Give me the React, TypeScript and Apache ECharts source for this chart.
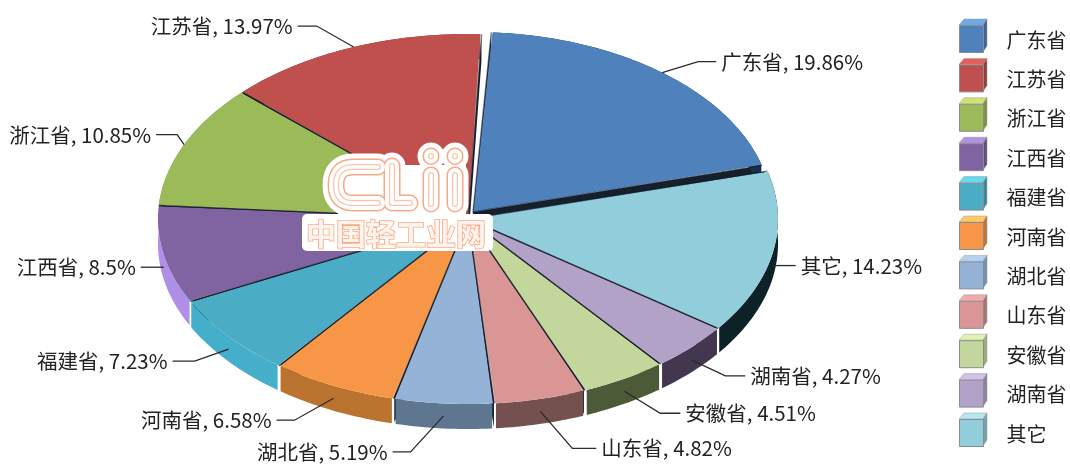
import React, { useEffect, useRef } from "react";
import * as echarts from "echarts";

const provinces = ["广东省", "江苏省", "浙江省", "江西省", "福建省", "河南省", "湖北省", "山东省", "安徽省", "湖南省", "其它"];
const shares = [19.86, 13.97, 10.85, 8.5, 7.23, 6.58, 5.19, 4.82, 4.51, 4.27, 14.23];

const topColors = ["#4f81bd", "#c0504d", "#9bbb59", "#8064a2", "#4bacc6", "#f79646", "#95b3d7", "#d99694", "#c3d69b", "#b3a2c7", "#92cddc"];
const wallColors = ["#16304f", "#7a3230", "#6b8a3a", "#b08fe8", "#45aecb", "#bb7330", "#5e7690", "#74504f", "#4d5a38", "#43374f", "#0c2228"];
const cubeTopColors = ["#6ea9ea", "#e2605c", "#d2e46e", "#b48fe2", "#62dcf0", "#ffc966", "#b6d2f2", "#f0aaa8", "#e2f0b0", "#d2c0ea", "#b4e8f4"];
const cubeSideColors = ["#3b659a", "#983c3a", "#7a9444", "#624c80", "#38889e", "#c47434", "#7490b0", "#b07270", "#9cad78", "#8e80a0", "#72a4b0"];

// layout of leader lines: [elbow dx, elbow dy, tail dx] from the slice's rim anchor
const leaders = [
  [36, -11, 18], [-37, -21, -19], [-7, -10, -21], [0, 0, -23], [-34, 12, -22], [-39, 22, -18],
  [-33, 36, -18], [32, 37, 24], [36, 22, 20], [34, 16, 20], [0, 0, 23],
];

const CX = 468, CY = 219, RX = 310, RY = 185, DEPTH = 25, START = 75;
const FONT = '"Noto Sans CJK SC", "Liberation Sans", sans-serif';

const total = shares.reduce((a, b) => a + b, 0);
const rad = (d: number) => (d * Math.PI) / 180;

function sliceRange(i: number) {
  // the first slice ends at START and the others continue counter-clockwise
  const before = shares.slice(0, i).reduce((a, b) => a + b, 0);
  const hi = START - (before / total) * 360;
  const lo = hi - (shares[i] / total) * 360;
  return [lo, hi];
}

function renderSlice(i: number, params: any, api: any) {
  const value = api.value(0);
  const [lo, hiRaw] = sliceRange(i);
  // the slice next to the pulled-out one leaves a wider white gap
  const hi = i === 1 ? hiRaw - 1 : hiRaw;
  const mid = (lo + hiRaw) / 2;
  const exploded = i === 0;
  const cx = exploded ? CX + 5 : CX;
  const cy = exploded ? CY - 7 : CY;
  const rx = exploded ? RX - 11 : RX;
  const ry = exploded ? RY - 5 : RY;
  const pt = (deg: number, f = 1, dy = 0) => [cx + rx * f * Math.sin(rad(deg)), cy - ry * f * Math.cos(rad(deg)) + dy];
  const arc = (a: number, b: number, dy = 0) => {
    const n = Math.max(2, Math.ceil(Math.abs(b - a)));
    const out: number[][] = [];
    for (let k = 0; k <= n; k++) out.push(pt(a + ((b - a) * k) / n, 1, dy));
    return out;
  };
  const z = Math.round(-Math.cos(rad(mid)) * 100) + 200;
  const g = 0.35;
  const radialWall = (deg: number) => ({
    type: "polygon",
    z2: z,
    shape: { points: [pt(deg, 0), pt(deg, 0.99), pt(deg, 0.99, DEPTH), pt(deg, 0, DEPTH)] },
    style: { fill: "#14202c" },
    silent: true,
  });
  const rimWall = {
    type: "polygon",
    z2: z,
    shape: { points: [...arc(lo + g, hi - g), ...arc(hi - g, lo + g, DEPTH)] },
    style: { fill: wallColors[i] },
    silent: true,
  };
  const topFace = {
    type: "polygon",
    z2: z + 1,
    shape: { points: [[cx, cy], ...arc(lo + g * 0.6, hi - g * 0.6)] },
    style: { fill: topColors[i] },
    silent: true,
  };
  const seam = {
    type: "polyline",
    z2: 500,
    shape: { points: [pt(lo, 1), pt(lo, 0), pt(hi, 1)] },
    style: { stroke: "rgba(20,28,40,0.55)", lineWidth: 1.4, fill: "none" },
    silent: true,
  };
  const rim = pt(mid);
  const anchor = [rim[0], rim[1] + (rim[1] > cy ? DEPTH / 2 : 0)];
  const [ex, ey, tail] = leaders[i];
  const elbow = [anchor[0] + ex, anchor[1] + ey];
  const end = [elbow[0] + tail, elbow[1]];
  const leader = {
    type: "polyline",
    z2: 600,
    shape: { points: [anchor, elbow, end] },
    style: { stroke: "#2a2a2a", lineWidth: 1.3, fill: "none" },
    silent: true,
  };
  const right = tail > 0;
  const label = {
    type: "text",
    z2: 601,
    style: {
      text: `${provinces[i]}, ${value}%`,
      x: end[0] + (right ? 5 : -5),
      y: end[1] - 1,
      fill: "#222222",
      font: `20.5px ${FONT}`,
      lineHeight: 20,
      align: right ? "left" : "right",
      textAlign: right ? "left" : "right",
      verticalAlign: "middle",
      textVerticalAlign: "middle",
    },
    silent: true,
  };
  return { type: "group", children: [radialWall(lo), radialWall(hi), rimWall, topFace, seam, leader, label] };
}

const logoPath =
  "M378 167 H353 Q336 167 336 185 Q336 203 353 203 H378 " +
  "M392 166 V203 H410 " +
  "M431 175 V204 M455 175 V204 " +
  "M431 156 V156.5 M455 156 V156.5";

export default function App() {
  const ref = useRef<HTMLDivElement>(null);
  useEffect(() => {
    document.body.style.margin = "0";
    echarts.graphic.registerShape("cliiLogo", echarts.graphic.extendPath(logoPath as any, {}) as any);
    const chart = echarts.init(ref.current!, null, { renderer: "svg" });
    const logoLayer = (color: string, width: number, z: number) => ({
      type: "cliiLogo",
      z,
      silent: true,
      style: { fill: "none", stroke: color, lineWidth: width, lineCap: "round", lineJoin: "round" },
    });
    const cubes: any[] = [];
    provinces.forEach((_, i) => {
      const x = 959, y = 25 + 39.4 * i;
      cubes.push({ type: "polygon", silent: true, shape: { points: [[x, y], [x + 5, y - 6], [x + 28, y - 6], [x + 24, y]] }, style: { fill: cubeTopColors[i], stroke: "#9a9a9a", lineWidth: 0.5 } });
      cubes.push({ type: "polygon", silent: true, shape: { points: [[x + 24, y], [x + 28, y - 6], [x + 28, y + 21], [x + 24, y + 27]] }, style: { fill: cubeSideColors[i], stroke: "#9a9a9a", lineWidth: 0.5 } });
    });
    chart.setOption({
      animation: false,
      backgroundColor: "#ffffff",
      legend: {
        show: true,
        orient: "vertical",
        left: 959,
        top: 25,
        padding: 0,
        itemWidth: 24,
        itemHeight: 27,
        itemGap: 11.4,
        selectedMode: false,
        icon: "rect",
        itemStyle: { borderColor: "#8c8c8c", borderWidth: 1 },
        textStyle: { fontFamily: FONT, fontSize: 20, lineHeight: 20, color: "#222222", padding: [0, 0, 0, 18] },
        data: provinces,
      },
      graphic: [
        ...cubes,
        { type: "rect", z: 1000, silent: true, shape: { x: 302, y: 214, width: 191, height: 37, r: 5 }, style: { fill: "#ffffff" } },
        { type: "rect", z: 1000, silent: true, shape: { x: 338, y: 165, width: 128, height: 50 }, style: { fill: "#ffffff" } },
        logoLayer("#ffffff", 27, 1001),
        logoLayer("#f9a884", 17, 1002),
        logoLayer("#ffffff", 14, 1003),
        logoLayer("#fbc6ac", 6, 1004),
        logoLayer("#ffffff", 3.5, 1005),
        {
          type: "text",
          z: 1006,
          silent: true,
          style: {
            text: "中国轻工业网",
            x: 396,
            y: 232,
            align: "center",
            textAlign: "center",
            verticalAlign: "middle",
            textVerticalAlign: "middle",
            font: `bold 30px ${FONT}`,
            fill: "#fff4ee",
            stroke: "#f9a884",
            lineWidth: 1.6,
          },
        },
      ],
      series: provinces.map((name, i) => ({
        type: "custom",
        name,
        coordinateSystem: "none",
        silent: true,
        itemStyle: { color: topColors[i] },
        renderItem: (p: any, api: any) => renderSlice(i, p, api),
        data: [[shares[i]]],
      })),
    });
    return () => chart.dispose();
  }, []);
  return <div ref={ref} style={{ width: 1070, height: 466, filter: "blur(0.6px)" }} />;
}
